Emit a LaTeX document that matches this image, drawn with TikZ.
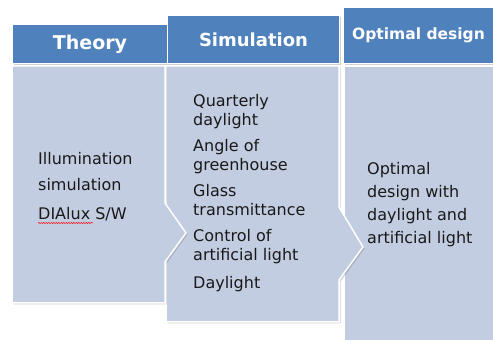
\documentclass[tikz,border=0pt]{standalone}
\usepackage{fontspec}
\setmainfont{DejaVu Sans}
\usetikzlibrary{shadows,decorations.pathmorphing}

\definecolor{headblue}{HTML}{4F81BD}
\definecolor{bodyblue}{HTML}{C3CDE1}

\tikzset{
  boxshadow/.style={drop shadow={shadow xshift=1.5pt, shadow yshift=-1.5pt, opacity=0.3, fill=black!60}},
  headbox/.style={rectangle, anchor=north west, fill=headblue, draw=white, line width=1pt,
    text=white, font=\bfseries, inner sep=0pt, boxshadow},
  bodybox/.style={fill=bodyblue, draw=white, line width=1.5pt, line join=miter, boxshadow},
  item/.style={anchor=base west, align=left, inner sep=0pt, text=black!90}
}

\begin{document}
\begin{tikzpicture}[x=1pt, y=-1pt]
    \useasboundingbox (0,0) rectangle (493,344);

    % Define bodies, back to front
    \draw[bodybox] (344,66) rectangle (500,341);
    \draw[bodybox] (166,66) -- (339,66) -- (339,207) -- (363,247) -- (339,280)
        -- (339,322) -- (166,322) -- cycle;
    \draw[bodybox] (12,66) -- (165,66) -- (165,203) -- (186,233) -- (165,262)
        -- (165,303) -- (12,303) -- cycle;

    % Define headers
    \node[headbox, minimum width=155pt, minimum height=39pt] (theory) at (12,24)
        {\fontsize{19}{22}\selectfont Theory};
    \node[headbox, minimum width=172pt, minimum height=48pt] (sim) at (167,15)
        {\fontsize{18}{21}\selectfont Simulation};
    \node[headbox, minimum width=160pt, minimum height=56pt] (opt) at (343,7)
        {\fontsize{15.5}{18}\selectfont\hspace*{-10pt}Optimal design};

    % Theory items (anchored at the last line)
    \node[item, font=\fontsize{16}{26}\selectfont] (illum) at (38,191)
        {Illumination\\simulation};
    \node[item, font=\fontsize{16}{26}\selectfont] (dialux) at (38,220) {DIAlux S/W};
    \draw[red, line width=0.5pt, decorate,
        decoration={snake, segment length=2.5pt, amplitude=0.6pt}] (38,223) -- (93,223);

    % Simulation items
    \node[item, font=\fontsize{16}{18.5}\selectfont] (quart) at (193,125.5)
        {Quarterly\\daylight};
    \node[item, font=\fontsize{16}{18.5}\selectfont] (angle) at (193,170.5)
        {Angle of\\greenhouse};
    \node[item, font=\fontsize{16}{18.5}\selectfont] (glass) at (193,215.5)
        {Glass\\transmittance};
    \node[item, font=\fontsize{16}{18.5}\selectfont] (control) at (193,260.5)
        {Control of\\artificial light};
    \node[item, font=\fontsize{16}{18.5}\selectfont] (day) at (193,289) {Daylight};

    % Optimal design item
    \node[item, font=\fontsize{16}{23}\selectfont] (design) at (367,244)
        {Optimal\\design with\\daylight and\\artificial light};

\end{tikzpicture}
\end{document}
